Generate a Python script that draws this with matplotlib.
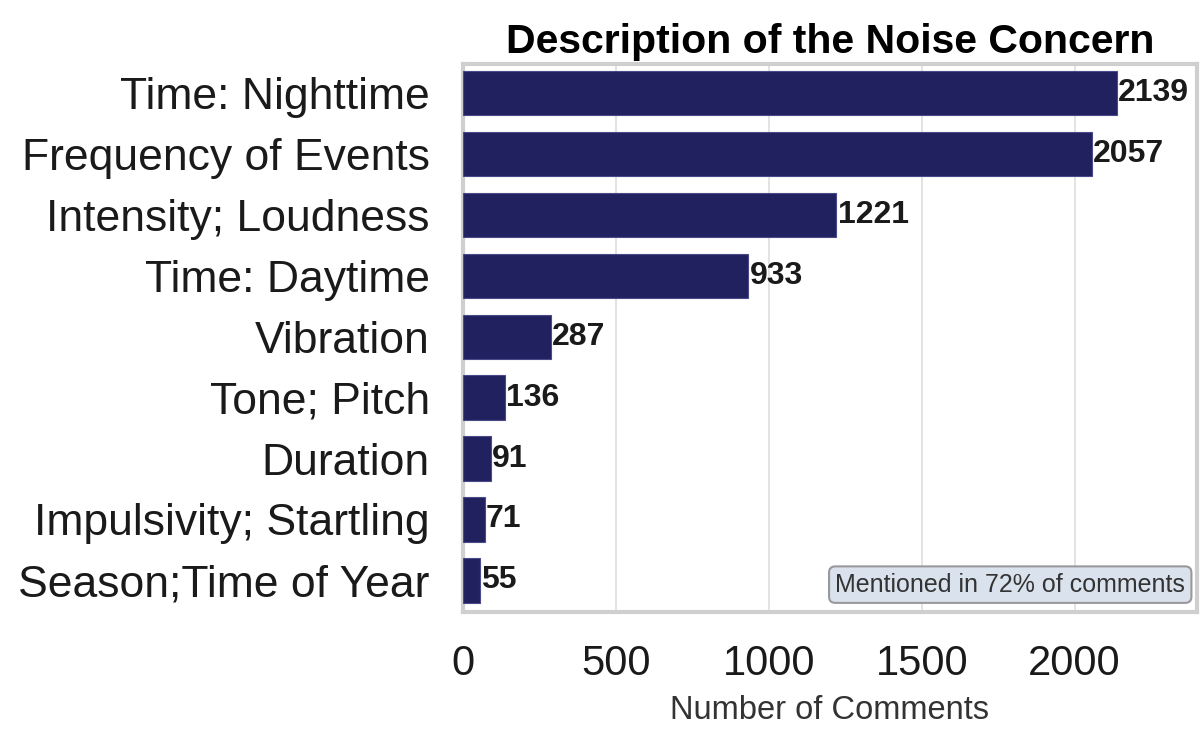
import matplotlib
matplotlib.use('Agg')
import matplotlib.pyplot as plt

categories = ['Time: Nighttime', 'Frequency of Events', 'Intensity; Loudness',
              'Time: Daytime', 'Vibration', 'Tone; Pitch', 'Duration',
              'Impulsivity; Startling', 'Season;Time of Year']
counts = [2139, 2057, 1221, 933, 287, 136, 91, 71, 55]
xticks = [0, 500, 1000, 1500, 2000]

plt.rcParams['font.family'] = ['Liberation Sans', 'DejaVu Sans']

fig = plt.figure(figsize=(12.01, 7.33), dpi=100)
ax = fig.add_axes([0.3855, 0.1651, 0.6111, 0.7476])

y = list(range(len(categories)))
ax.barh(y, counts, height=0.73, color='#222160', edgecolor='#4a4a8a', linewidth=0.8, zorder=3)
for yi, c in zip(y, counts):
    ax.text(c + 4, yi, str(c), va='center', ha='left', fontsize=23, fontweight='bold',
            color='#1a1a1a', zorder=4)

ax.set_yticks(y)
ax.set_yticklabels(categories, fontsize=32, color='#1a1a1a')
ax.set_ylim(8.52, -0.48)
ax.set_xlim(0, 2400)
ax.set_xticks(xticks)
ax.set_xticklabels([str(t) for t in xticks], fontsize=30, color='#1a1a1a')
ax.tick_params(axis='y', length=0, pad=24)
ax.tick_params(axis='x', length=0, pad=23)
ax.grid(axis='x', color='#dedede', linewidth=1.2, zorder=0)
for s in ax.spines.values():
    s.set_color('#cfcfcf')
    s.set_linewidth(3)

ax.set_title('Description of the Noise Concern', fontsize=29.5, fontweight='bold', pad=8)
ax.set_xlabel('Number of Comments', fontsize=23.5, color='#333333', labelpad=8)

ax.text(0.984, 0.028, 'Mentioned in 72% of comments', transform=ax.transAxes,
        ha='right', va='bottom', fontsize=18, color='#333333', zorder=5,
        bbox=dict(boxstyle='round,pad=0.25', facecolor='#dae2ee', edgecolor='#999999', linewidth=1.5))

fig.savefig('out.png', dpi=100)
